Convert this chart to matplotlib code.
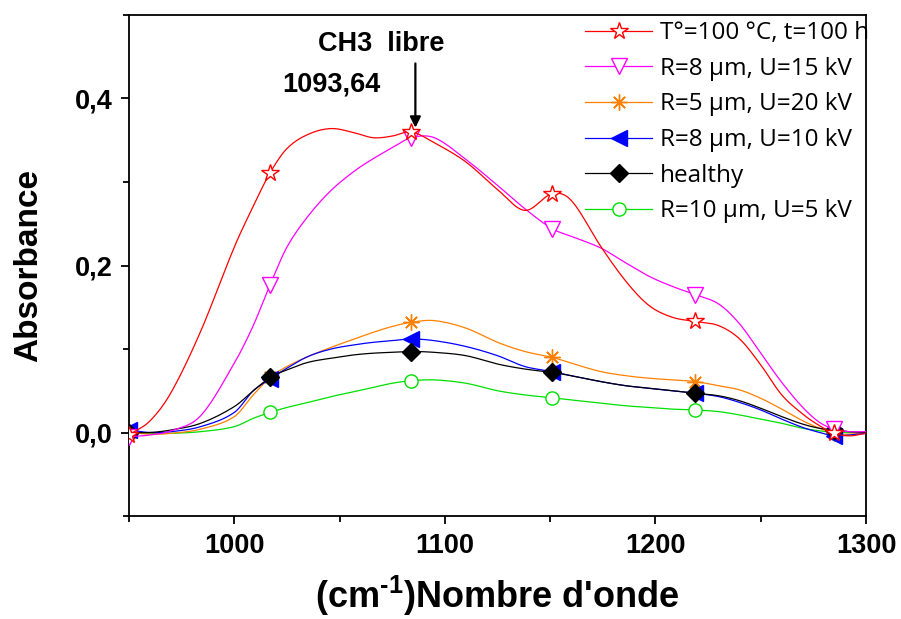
import numpy as np
import matplotlib
matplotlib.use("Agg")
import matplotlib.pyplot as plt
from matplotlib.ticker import MultipleLocator, FuncFormatter

plt.rcParams['font.family'] = ['Liberation Sans', 'DejaVu Sans']
plt.rcParams['mathtext.fontset'] = 'custom'
plt.rcParams['mathtext.rm'] = 'Liberation Sans:bold'
plt.rcParams['mathtext.bf'] = 'Liberation Sans:bold'
plt.rcParams['mathtext.it'] = 'Liberation Sans:bold'

# Wavenumbers (cm-1) of the sampled spectra
wavenumber = [950, 960, 970, 984, 1000, 1009, 1017, 1025, 1035, 1046, 1057, 1066,
              1075, 1084, 1095, 1110, 1125, 1138, 1151, 1160, 1174, 1186, 1197,
              1208, 1219, 1230, 1240, 1250, 1260, 1270, 1278, 1285, 1292, 1300]
# Samples that carry a symbol
marker_idx = [0, 6, 13, 18, 24, 31]

abs_thermal = [-0.003, 0.014, 0.048, 0.121, 0.222, 0.271, 0.311, 0.340, 0.357, 0.364,
               0.359, 0.353, 0.355, 0.360, 0.347, 0.324, 0.291, 0.266, 0.286, 0.278,
               0.223, 0.181, 0.152, 0.138, 0.133, 0.128, 0.112, 0.081, 0.045, 0.022,
               0.008, -0.001, -0.004, -0.001]
abs_r8_u15 = [-0.005, -0.003, 0.002, 0.020, 0.083, 0.128, 0.177, 0.222, 0.259, 0.290,
              0.313, 0.328, 0.341, 0.353, 0.353, 0.327, 0.296, 0.268, 0.244, 0.235,
              0.221, 0.203, 0.187, 0.175, 0.165, 0.154, 0.130, 0.095, 0.060, 0.030,
              0.012, 0.004, 0.001, 0.001]
abs_r5_u20 = [0.0, -0.002, -0.001, 0.004, 0.019, 0.045, 0.066, 0.079, 0.091, 0.102,
              0.112, 0.120, 0.127, 0.132, 0.134, 0.125, 0.108, 0.097, 0.090, 0.083,
              0.073, 0.068, 0.065, 0.063, 0.061, 0.056, 0.051, 0.041, 0.028, 0.014,
              0.005, -0.001, -0.002, 0.0]
abs_r8_u10 = [0.003, 0.0, 0.001, 0.007, 0.024, 0.050, 0.064, 0.077, 0.091, 0.100,
              0.105, 0.108, 0.110, 0.112, 0.110, 0.103, 0.092, 0.079, 0.073, 0.068,
              0.061, 0.056, 0.053, 0.050, 0.047, 0.043, 0.036, 0.027, 0.016, 0.006,
              0.0, -0.004, -0.003, -0.001]
abs_healthy = [0.0, 0.0, 0.003, 0.011, 0.031, 0.050, 0.066, 0.075, 0.084, 0.089,
               0.093, 0.095, 0.096, 0.097, 0.096, 0.092, 0.082, 0.076, 0.072, 0.068,
               0.061, 0.056, 0.053, 0.050, 0.047, 0.044, 0.038, 0.029, 0.019, 0.010,
               0.005, 0.003, 0.001, 0.0]
abs_r10_u5 = [0.0, -0.001, -0.001, 0.001, 0.007, 0.017, 0.024, 0.030, 0.036, 0.043,
              0.049, 0.054, 0.059, 0.062, 0.063, 0.059, 0.050, 0.045, 0.0415, 0.039,
              0.035, 0.032, 0.030, 0.028, 0.027, 0.025, 0.021, 0.016, 0.011, 0.005,
              0.002, 0.0, 0.0, 0.0]

labels = ["T°=100 °C, t=100 h", "R=8 µm, U=15 kV", "R=5 µm, U=20 kV",
          "R=8 µm, U=10 kV", "healthy", "R=10 µm, U=5 kV"]

peak_label = "CH3  libre"
peak_value = "1093,64"


def smooth(x, y, n=20):
    """Cubic Hermite curve through (x, y); returns dense x, y."""
    x = np.asarray(x, float)
    y = np.asarray(y, float)
    m = np.empty_like(y)
    m[1:-1] = (y[2:] - y[:-2]) / (x[2:] - x[:-2])
    m[0] = (y[1] - y[0]) / (x[1] - x[0])
    m[-1] = (y[-1] - y[-2]) / (x[-1] - x[-2])
    xs, ys = [], []
    for i in range(len(x) - 1):
        h = x[i + 1] - x[i]
        t = np.linspace(0, 1, n, endpoint=False)
        h00 = 2 * t**3 - 3 * t**2 + 1
        h10 = t**3 - 2 * t**2 + t
        h01 = -2 * t**3 + 3 * t**2
        h11 = t**3 - t**2
        xs.append(x[i] + t * h)
        ys.append(h00 * y[i] + h10 * h * m[i] + h01 * y[i + 1] + h11 * h * m[i + 1])
    xs.append([x[-1]])
    ys.append([y[-1]])
    return np.concatenate(xs), np.concatenate(ys)


fig = plt.figure(figsize=(9.01, 6.19), dpi=100)
ax = fig.add_axes([129 / 901, 1 - 516 / 619, 737 / 901, 501 / 619])

NSEG = 20
dense_marks = [i * NSEG for i in marker_idx]

series = [
    (abs_thermal, labels[0], '#ff0000', dict(marker='*', ms=13, mfc='white', mec='#ff0000', mew=1.0), 7),
    (abs_r8_u15, labels[1], '#ff00ff', dict(marker='v', ms=12, mfc='white', mec='#ff00ff', mew=1.0), 6),
    (abs_r5_u20, labels[2], '#ff8000', dict(marker=(8, 2, 0), ms=11.5, mec='#ff8000', mew=1.0), 2),
    (abs_r8_u10, labels[3], '#0000ff', dict(marker='<', ms=11, mfc='#0000ff', mec='#0000ff'), 3),
    (abs_healthy, labels[4], '#000000', dict(marker='D', ms=9.5, mfc='#000000', mec='#000000'), 4),
    (abs_r10_u5, labels[5], '#00e000', dict(marker='o', ms=9.5, mfc='white', mec='#00e000', mew=1.0), 1),
]

handles = []
for vals, lab, col, mk, z in series:
    xd, yd = smooth(wavenumber, vals, NSEG)
    h, = ax.plot(xd, yd, color=col, lw=0.9, markevery=dense_marks, label=lab,
                 zorder=z, **mk)
    handles.append(h)

ax.set_xlim(950, 1300)
ax.set_ylim(-0.1, 0.5)
ax.xaxis.set_major_locator(MultipleLocator(100))
ax.xaxis.set_minor_locator(MultipleLocator(50))
ax.yaxis.set_major_locator(MultipleLocator(0.2))
ax.yaxis.set_minor_locator(MultipleLocator(0.1))
ax.yaxis.set_major_formatter(FuncFormatter(lambda v, p: f"{v:.1f}".replace('.', ',').replace('-0,0', '0,0')))

for s in ax.spines.values():
    s.set_linewidth(1.3)
ax.tick_params(which='major', direction='out', length=6, width=1.3, labelsize=19.5, pad=6)
ax.tick_params(which='minor', direction='out', length=4, width=1.3)
for t in ax.get_xticklabels() + ax.get_yticklabels():
    t.set_fontweight('bold')

ax.set_ylabel("Absorbance", fontsize=24, fontweight='bold', labelpad=22)
ax.set_xlabel(r"(cm$^{\text{-}1}$)Nombre d'onde", fontsize=26, fontweight='bold', labelpad=11)

ax.text(1070, 0.4647, peak_label, ha='center', va='center', fontsize=19.5, fontweight='bold')
ax.text(1046, 0.4167, peak_value, ha='center', va='center', fontsize=19.5, fontweight='bold')
ax.annotate("", xy=(1086, 0.365), xytext=(1086, 0.442),
            arrowprops=dict(arrowstyle='-|>', color='black', lw=1.6, mutation_scale=16,
                            shrinkA=0, shrinkB=0))

leg = ax.legend(handles=handles, loc='upper left', bbox_to_anchor=(0.619, 0.988),
                frameon=False, handlelength=2.75, handletextpad=0.33,
                labelspacing=0.48, borderpad=0, borderaxespad=0, numpoints=1,
                prop={'family': 'Open Sans', 'size': 17.5})

fig.savefig("out.png", dpi=100)
